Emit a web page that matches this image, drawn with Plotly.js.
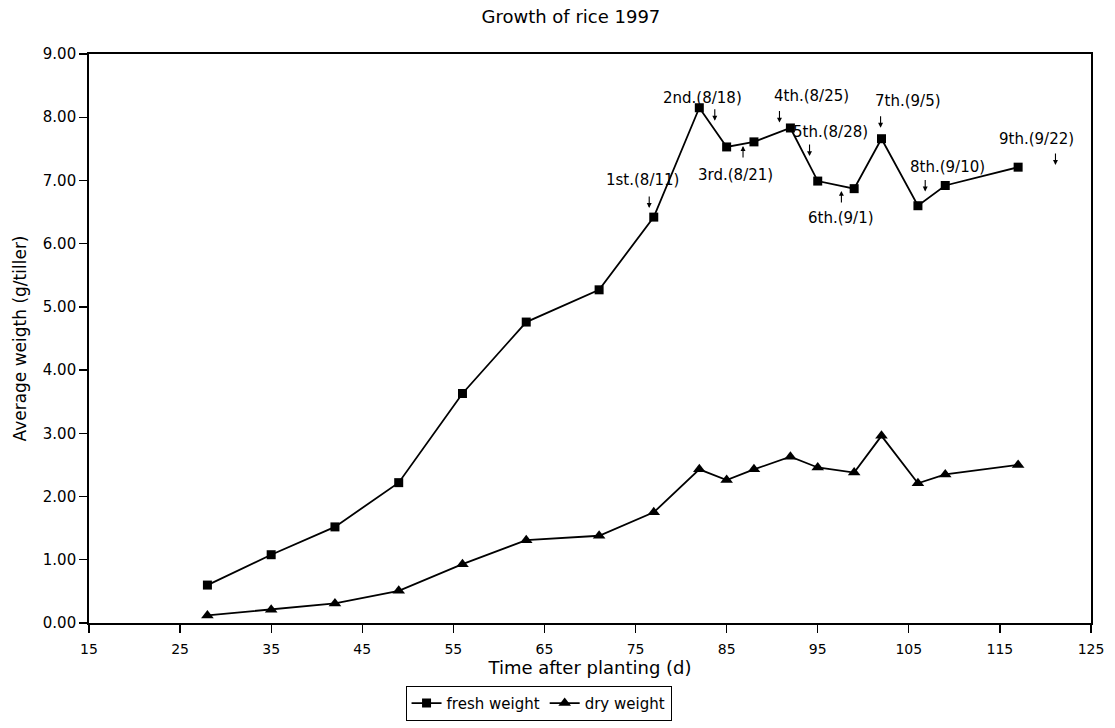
<!DOCTYPE html>
<html>
<head>
<meta charset="utf-8">
<script src="https://cdn.plot.ly/plotly-3.0.1.min.js"></script>
<style>html,body{margin:0;padding:0;background:#fff;}#chart{width:1115px;height:728px;}</style>
</head>
<body>
<div id="chart"></div>
<script>
// Time after planting (days)
var days = [28, 35, 42, 49, 56, 63, 71, 77, 82, 85, 88, 92, 95, 99, 102, 106, 109, 117];
// Average weight (g/tiller)
var freshWeight = [0.60, 1.08, 1.52, 2.22, 3.63, 4.76, 5.27, 6.42, 8.15, 7.53, 7.61, 7.83, 6.99, 6.87, 7.66, 6.60, 6.92, 7.21];
var dryWeight   = [0.12, 0.21, 0.31, 0.51, 0.93, 1.31, 1.38, 1.75, 2.43, 2.26, 2.43, 2.63, 2.46, 2.38, 2.96, 2.21, 2.35, 2.50];

// Sampling labels and where they sit
var sampleLabels = ["1st.(8/11)", "2nd.(8/18)", "3rd.(8/21)", "4th.(8/25)", "5th.(8/28)", "6th.(9/1)", "7th.(9/5)", "8th.(9/10)", "9th.(9/22)"];
var labelX = [75.8, 82.4, 86.0, 94.3, 96.4, 97.6, 104.9, 109.2, 119.0];
var labelY = [7.01, 8.31, 7.09, 8.34, 7.77, 6.41, 8.26, 7.22, 7.66];
// arrow direction (down = pointing down) and arrow tip
var arrowDown = [true, true, false, true, true, false, true, true, true];
var arrowX = [76.5, 83.7, 86.8, 90.8, 94.1, 97.6, 101.9, 106.8, 121.1];
var arrowY = [6.565, 7.945, 7.545, 7.915, 7.385, 6.835, 7.835, 6.825, 7.245];

var fontFam = "DejaVu Sans, Verdana, sans-serif";

var traces = [
  {
    x: days, y: freshWeight, type: "scatter", mode: "lines+markers",
    name: "fresh weight",
    line: {color: "#000", width: 1.8},
    marker: {symbol: "square", size: 9, color: "#000"}
  },
  {
    x: days, y: dryWeight, type: "scatter", mode: "lines+markers",
    name: "dry weight",
    line: {color: "#000", width: 1.8},
    marker: {symbol: "triangle-up", size: 11, color: "#000"}
  }
];

var annotations = [];
for (var i = 0; i < sampleLabels.length; i++) {
  annotations.push({x: labelX[i], y: labelY[i], xref: "x", yref: "y", text: sampleLabels[i],
    showarrow: false, font: {family: fontFam, size: 15, color: "#000"}});
  annotations.push({x: arrowX[i], y: arrowY[i], xref: "x", yref: "y", text: "",
    showarrow: true, ax: 0, ay: arrowDown[i] ? -13 : 13,
    arrowhead: 2, arrowsize: 0.9, arrowwidth: 1.1, arrowcolor: "#000", standoff: 0, startstandoff: 0});
}

var layout = {
  width: 1115, height: 728,
  margin: {l: 89, r: 24, t: 54, b: 105},
  paper_bgcolor: "#fff", plot_bgcolor: "#fff",
  font: {family: fontFam, size: 14, color: "#000"},
  title: {text: "Growth of rice 1997", x: 0.512, xanchor: "center", y: 0.977, yanchor: "middle",
    font: {family: fontFam, size: 18, color: "#000"}},
  xaxis: {
    range: [15, 125], dtick: 10, tick0: 15, automargin: false,
    showgrid: false, zeroline: false,
    showline: true, linecolor: "#000", linewidth: 1.8, mirror: true,
    ticks: "outside", ticklen: 8, tickcolor: "#000", tickwidth: 1.3,
    ticklabelstandoff: 4,
    tickfont: {family: fontFam, size: 14, color: "#000"},
    title: {text: "Time after planting (d)", standoff: 0, font: {family: fontFam, size: 18, color: "#000"}}
  },
  yaxis: {
    range: [0, 9], dtick: 1, tickformat: ".2f", automargin: false,
    showgrid: false, zeroline: false,
    showline: true, linecolor: "#000", linewidth: 1.8, mirror: true,
    ticks: "outside", ticklen: 8, tickcolor: "#000", tickwidth: 1.3,
    ticklabelstandoff: 0,
    tickfont: {family: fontFam, size: 15, color: "#000"},
    title: {text: "Average weigth (g/tiller)", standoff: 12, font: {family: fontFam, size: 17, color: "#000"}}
  },
  showlegend: true,
  legend: {
    orientation: "h", x: 0.483, xanchor: "center", xref: "container",
    y: 0.058, yanchor: "top", yref: "container",
    bordercolor: "#000", borderwidth: 1, bgcolor: "#fff",
    font: {family: fontFam, size: 15, color: "#000"},
    itemwidth: 30, tracegroupgap: 0
  },
  annotations: annotations
};

Plotly.newPlot("chart", traces, layout, {displayModeBar: false, staticPlot: true});
</script>
</body>
</html>
